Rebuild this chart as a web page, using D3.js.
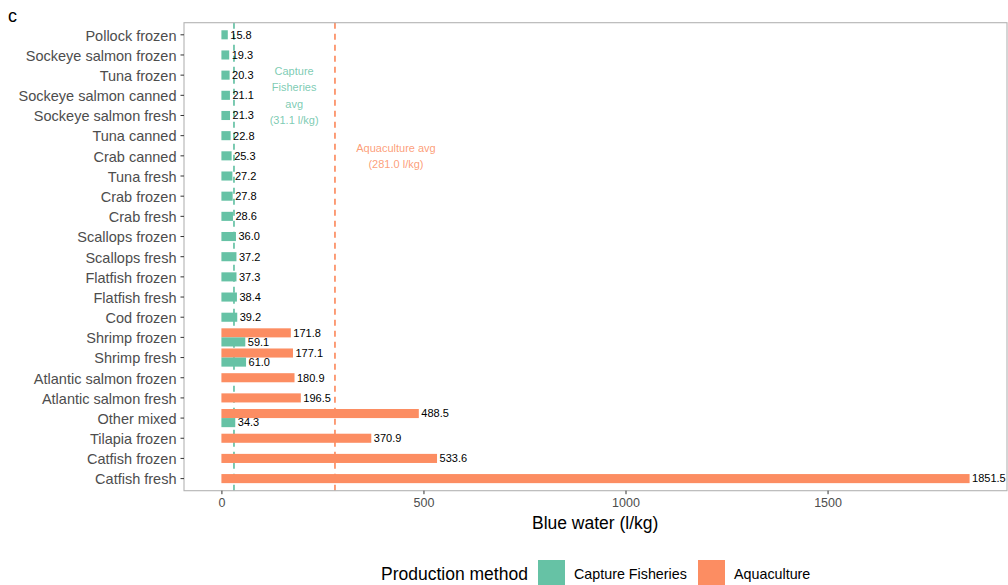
<!DOCTYPE html>
<html lang="en">
<head>
<meta charset="UTF-8">
<title>Blue water by product</title>
<script src="https://d3js.org/d3.v7.min.js"></script>
<style>
    body { margin: 0; background: #ffffff; font-family: 'Liberation Sans', Arial, sans-serif; }
    svg text { font-family: 'Liberation Sans', Arial, sans-serif; }
</style>
</head>
<body>
<svg id="chart" width="1008" height="585"></svg>
<script>
    // --- data (top to bottom) ---
    const categories = [
        "Pollock frozen", "Sockeye salmon frozen", "Tuna frozen", "Sockeye salmon canned",
        "Sockeye salmon fresh", "Tuna canned", "Crab canned", "Tuna fresh", "Crab frozen",
        "Crab fresh", "Scallops frozen", "Scallops fresh", "Flatfish frozen", "Flatfish fresh",
        "Cod frozen", "Shrimp frozen", "Shrimp fresh", "Atlantic salmon frozen",
        "Atlantic salmon fresh", "Other mixed", "Tilapia frozen", "Catfish frozen", "Catfish fresh"
    ];
    const captureValues = [
        15.8, 19.3, 20.3, 21.1, 21.3, 22.8, 25.3, 27.2, 27.8, 28.6, 36.0, 37.2, 37.3, 38.4,
        39.2, 59.1, 61.0, null, null, 34.3, null, null, null
    ];
    const aquaValues = [
        null, null, null, null, null, null, null, null, null, null, null, null, null, null,
        null, 171.8, 177.1, 180.9, 196.5, 488.5, 370.9, 533.6, 1851.5
    ];
    const xTicks = [0, 500, 1000, 1500];
    const captureAvg = 31.1;
    const aquaAvg = 281.0;
    const methods = ["Capture Fisheries", "Aquaculture"];

    const colors = { "Capture Fisheries": "#66c2a5", "Aquaculture": "#fc8d62" };

    const svg = d3.select("#chart");
    const panel = { left: 184, right: 1007, top: 22.7, bottom: 490.7 };

    // x scale with ggplot-like 5% expansion
    const xMax = d3.max(aquaValues.concat(captureValues));
    const pad = xMax * 0.05;
    const x = d3.scaleLinear().domain([-pad, xMax + pad]).range([panel.left, panel.right]);

    const y = d3.scaleBand().domain(categories).range([panel.top, panel.bottom])
        .paddingInner(0).paddingOuter(0.1);
    const step = y.step();
    const dodge = d3.scaleBand().domain(["Aquaculture", "Capture Fisheries"])
        .range([-0.45 * step, 0.45 * step]);

    // bars table
    const bars = [];
    categories.forEach((c, i) => {
        const both = captureValues[i] != null && aquaValues[i] != null;
        [["Aquaculture", aquaValues[i]], ["Capture Fisheries", captureValues[i]]].forEach(([m, v]) => {
            if (v == null) return;
            const center = y(c) + step / 2;
            const y0 = both ? center + dodge(m) : center - dodge.bandwidth() / 2;
            bars.push({ cat: c, method: m, value: v, y0: y0, h: dodge.bandwidth() });
        });
    });

    // average lines (behind bars)
    [[captureAvg, colors["Capture Fisheries"]], [aquaAvg, colors["Aquaculture"]]].forEach(([v, col]) => {
        svg.append("line")
            .attr("x1", x(v)).attr("x2", x(v))
            .attr("y1", panel.top).attr("y2", panel.bottom)
            .attr("stroke", col).attr("stroke-width", 1.7)
            .attr("stroke-dasharray", "6,5");
    });

    svg.append("g").selectAll("rect").data(bars).join("rect")
        .attr("x", d => x(0))
        .attr("y", d => d.y0)
        .attr("width", d => x(d.value) - x(0))
        .attr("height", d => d.h)
        .attr("fill", d => colors[d.method]);

    svg.append("g").selectAll("text").data(bars).join("text")
        .attr("x", d => x(d.value) + 2.5)
        .attr("y", d => d.y0 + d.h / 2)
        .attr("dy", "0.35em")
        .attr("font-size", 11)
        .attr("fill", "#000")
        .text(d => d.value.toFixed(1));

    // average annotations
    const capLines = ["Capture", "Fisheries", "avg", "(" + captureAvg.toFixed(1) + " l/kg)"];
    svg.append("text").attr("font-size", 11).attr("fill", colors["Capture Fisheries"])
        .attr("fill-opacity", 0.85).attr("text-anchor", "middle")
        .selectAll("tspan").data(capLines).join("tspan")
        .attr("x", x(180)).attr("y", (d, i) => 75 + i * 16.3).text(d => d);
    const aquaLines = ["Aquaculture avg", "(" + aquaAvg.toFixed(1) + " l/kg)"];
    svg.append("text").attr("font-size", 11).attr("fill", colors["Aquaculture"])
        .attr("fill-opacity", 0.85).attr("text-anchor", "middle")
        .selectAll("tspan").data(aquaLines).join("tspan")
        .attr("x", x(432)).attr("y", (d, i) => 152 + i * 16.3).text(d => d);

    // panel border
    svg.append("rect")
        .attr("x", panel.left).attr("y", panel.top)
        .attr("width", panel.right - panel.left).attr("height", panel.bottom - panel.top)
        .attr("fill", "none").attr("stroke", "#b3b3b3").attr("stroke-width", 1.1);

    // y axis
    const yAxis = svg.append("g").attr("transform", `translate(${panel.left},0)`)
        .call(d3.axisLeft(y).tickSize(3.5).tickPadding(4));
    yAxis.select(".domain").remove();
    yAxis.selectAll(".tick line").attr("stroke", "#333");
    yAxis.selectAll(".tick text").attr("font-size", 14.5).attr("fill", "#4d4d4d")
        .attr("dy", "0.4em");

    // x axis
    const xAxis = svg.append("g").attr("transform", `translate(0,${panel.bottom})`)
        .call(d3.axisBottom(x).tickValues(xTicks).tickSize(3.5).tickPadding(4).tickFormat(d3.format("d")));
    xAxis.select(".domain").remove();
    xAxis.selectAll(".tick line").attr("stroke", "#333");
    xAxis.selectAll(".tick text").attr("font-size", 12.5).attr("fill", "#4d4d4d");

    svg.append("text").attr("x", x(925)).attr("y", 529)
        .attr("text-anchor", "middle").attr("font-size", 17.5).attr("fill", "#000")
        .text("Blue water (l/kg)");

    // panel tag
    svg.append("text").attr("x", 8).attr("y", 22).attr("font-size", 18)
        .attr("fill", "#000").text("c");

    // legend
    const legend = svg.append("g");
    legend.append("text").attr("x", 381).attr("y", 580).attr("font-size", 17.5)
        .attr("fill", "#000").text("Production method");
    const keyX = [538, 698];
    methods.forEach((m, i) => {
        legend.append("rect").attr("x", keyX[i]).attr("y", 560).attr("width", 27).attr("height", 27)
            .attr("fill", colors[m]);
        legend.append("text").attr("x", keyX[i] + 36).attr("y", 579).attr("font-size", 14.3)
            .attr("fill", "#000").text(m);
    });
</script>
</body>
</html>
